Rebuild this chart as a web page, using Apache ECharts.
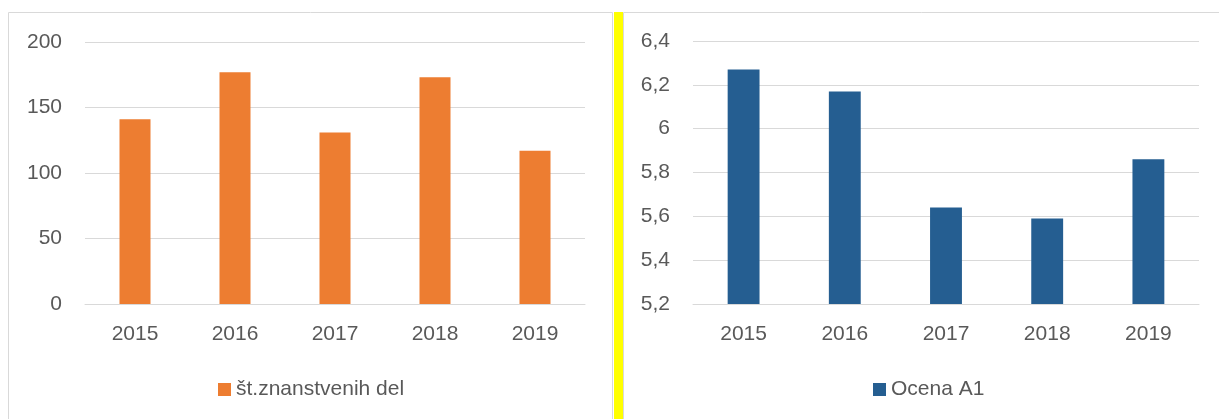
<!DOCTYPE html>
<html><head><meta charset="utf-8">
<script src="https://cdn.jsdelivr.net/npm/echarts@6/dist/echarts.min.js"></script>
<style>html,body{margin:0;padding:0;background:#fff;}#c{width:1219px;height:419px;}</style>
</head><body><div id="c"></div>
<script>
const years = ['2015','2016','2017','2018','2019'];
const leftName = 'št.znanstvenih del';
const leftValues = [141, 177, 131, 173, 117];
const rightName = 'Ocena A1';
const rightValues = [6.27, 6.17, 5.64, 5.59, 5.86];
const leftTicks = {min: 0, max: 200, interval: 50};
const rightTicks = {min: 5.2, max: 6.4, interval: 0.2};

const font = 'Liberation Sans, Arial, sans-serif';
const txt = '#595959';
const gridC = '#d9d9d9';
const chart = echarts.init(document.getElementById('c'));
function xAxis(i){return {type:'category',data:years,gridIndex:i,axisTick:{show:false},
  axisLine:{lineStyle:{color:gridC,width:1}},axisLabel:{color:txt,fontSize:21,fontFamily:font,margin:20}};}
function yAxis(i,t,fmt){return {type:'value',gridIndex:i,min:t.min,max:t.max,interval:t.interval,
  axisLine:{show:false},axisTick:{show:false},splitLine:{lineStyle:{color:gridC,width:1}},
  axisLabel:{color:txt,fontSize:21,fontFamily:font,margin:23,formatter:fmt}};}
chart.setOption({
  animation:false,
  graphic:[
    {type:'rect',shape:{x:8.5,y:12.5,width:604,height:430},style:{fill:'none',stroke:gridC,lineWidth:1}},
    {type:'rect',shape:{x:623.5,y:12.5,width:610,height:430},style:{fill:'none',stroke:gridC,lineWidth:1}},
    {type:'rect',shape:{x:614,y:12,width:9,height:420},style:{fill:'#ffff00'}}
  ],
  grid:[{left:85,right:634,top:42,bottom:115},{left:693,right:20,top:41,bottom:115}],
  xAxis:[xAxis(0),xAxis(1)],
  yAxis:[yAxis(0,leftTicks,v=>String(v)),
         yAxis(1,rightTicks,v=>String(+(+v).toFixed(1)).replace('.',','))],
  legend:[
    {data:[leftName],left:218,top:379,padding:0,itemWidth:13,itemHeight:13,itemGap:6,icon:'rect',
     textStyle:{color:txt,fontSize:21,fontFamily:font}},
    {data:[rightName],left:873,top:379,padding:0,itemWidth:13,itemHeight:13,itemGap:6,icon:'rect',
     textStyle:{color:txt,fontSize:21,fontFamily:font}}
  ],
  series:[
    {name:leftName,type:'bar',xAxisIndex:0,yAxisIndex:0,data:leftValues,barWidth:'31%',itemStyle:{color:'#ED7D31'}},
    {name:rightName,type:'bar',xAxisIndex:1,yAxisIndex:1,data:rightValues,barWidth:'31.5%',itemStyle:{color:'#255E91'}}
  ]
});
</script></body></html>
